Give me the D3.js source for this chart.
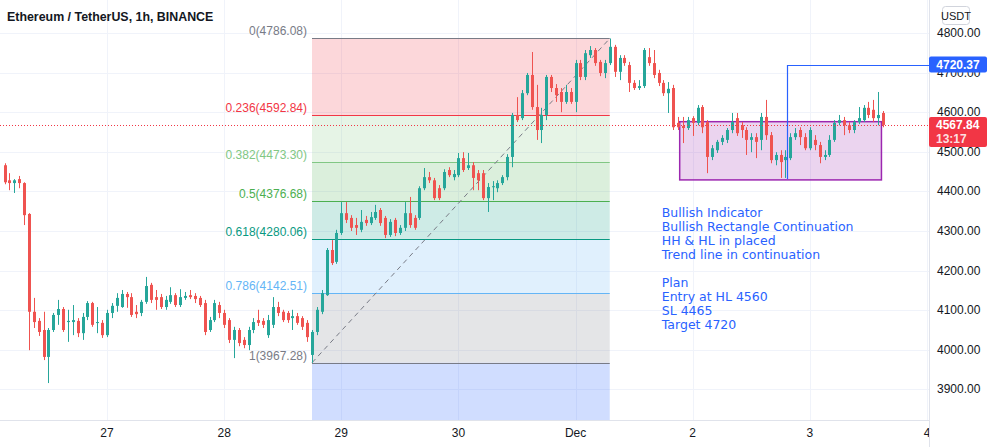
<!DOCTYPE html>
<html><head><meta charset="utf-8">
<script src="https://cdn.jsdelivr.net/npm/d3@7"></script>
<style>html,body{margin:0;padding:0;background:#fff;overflow:hidden}</style>
</head><body><svg id="c" width="992" height="447"></svg>
<script>
const title = "Ethereum / TetherUS, 1h, BINANCE";
const startTime = "2021-11-26T03:00:00Z"; // first hourly candle
// hourly candles [open, high, low, close]
const ohlc = [
[4466,4471,4418,4423],[4428,4446,4403,4421],[4421,4431,4396,4428],[4431,4439,4408,4421],[4421,4423,4315,4340],
[4343,4345,3999,4096],[4096,4131,4055,4070],[4073,4080,4035,4045],[4050,4096,3974,3982],[3982,4055,3916,4050],
[4050,4093,4045,4088],[4088,4126,4063,4103],[4103,4108,4045,4050],[4070,4101,4020,4073],[4070,4113,4037,4075],
[4073,4080,4032,4042],[4042,4093,4025,4083],[4083,4123,4075,4118],[4118,4121,4058,4063],[4068,4108,4042,4070],
[4068,4075,4030,4037],[4037,4101,4032,4093],[4093,4118,4080,4111],[4111,4143,4096,4131],[4108,4151,4106,4141],
[4141,4146,4106,4133],[4133,4143,4083,4088],[4096,4113,4080,4090],[4093,4126,4085,4121],[4121,4184,4116,4161],
[4164,4169,4118,4126],[4133,4151,4101,4126],[4133,4141,4103,4108],[4108,4136,4101,4126],[4121,4158,4116,4138],
[4138,4143,4108,4113],[4113,4153,4108,4133],[4131,4146,4126,4136],[4138,4151,4128,4133],[4136,4143,4118,4128],
[4131,4136,4108,4113],[4118,4126,4037,4045],[4050,4083,4045,4075],[4075,4126,4070,4118],[4113,4121,4080,4093],
[4093,4101,4055,4063],[4075,4080,4017,4025],[4025,4058,3979,4050],[4050,4055,4009,4017],[4025,4032,4004,4012],
[4012,4058,3999,4050],[4050,4080,4042,4070],[4075,4101,4060,4068],[4073,4080,4055,4063],[4037,4088,4030,4075],
[4063,4133,4055,4108],[4108,4121,4085,4093],[4096,4101,4070,4075],[4093,4098,4068,4075],[4080,4101,4050,4085],
[4085,4093,4063,4068],[4080,4085,4050,4058],[4068,4075,4020,4032],[3987,4050,3967.28,4045],[4045,4108,4037,4101],
[4096,4151,4090,4143],[4138,4257,4136,4252],[4252,4277,4214,4219],[4222,4303,4217,4295],[4295,4373,4290,4345],
[4345,4373,4320,4328],[4333,4340,4300,4308],[4315,4333,4290,4308],[4303,4353,4297,4323],[4328,4338,4313,4320],
[4320,4348,4315,4335],[4333,4366,4328,4348],[4353,4358,4313,4320],[4333,4338,4282,4290],[4290,4330,4285,4323],
[4328,4333,4287,4295],[4295,4315,4290,4308],[4308,4373,4300,4345],[4345,4386,4308,4315],[4333,4340,4303,4308],
[4333,4413,4328,4408],[4408,4459,4403,4436],[4436,4449,4421,4428],[4428,4434,4378,4383],[4408,4416,4378,4383],
[4408,4456,4403,4449],[4454,4461,4436,4441],[4436,4454,4428,4444],[4441,4497,4436,4484],[4484,4499,4449,4454],
[4459,4497,4454,4466],[4466,4474,4403,4434],[4446,4454,4403,4428],[4446,4454,4378,4383],[4383,4421,4348,4411],
[4411,4426,4378,4413],[4408,4428,4398,4421],[4421,4441,4416,4436],[4436,4494,4428,4487],[4487,4598,4461,4593],
[4593,4638,4575,4580],[4585,4656,4580,4648],[4648,4699,4643,4694],[4694,4752,4606,4613],[4613,4669,4530,4555],
[4555,4611,4522,4593],[4593,4694,4580,4689],[4689,4694,4651,4661],[4661,4671,4626,4643],[4651,4661,4600,4626],
[4626,4669,4621,4651],[4651,4661,4621,4626],[4626,4732,4600,4724],[4724,4732,4681,4689],[4689,4757,4681,4749],
[4744,4767,4737,4757],[4757,4762,4717,4724],[4727,4732,4691,4699],[4699,4732,4686,4724],[4724,4786.08,4719,4765],
[4765,4770,4689,4702],[4702,4744,4681,4737],[4737,4744,4717,4724],[4719,4727,4651,4674],[4674,4681,4656,4661],
[4661,4681,4656,4666],[4666,4762,4661,4757],[4739,4762,4717,4724],[4724,4757,4686,4694],[4699,4707,4666,4674],
[4674,4681,4641,4648],[4648,4676,4598,4659],[4661,4669,4555,4562],[4573,4588,4555,4562],[4565,4588,4522,4560],
[4560,4588,4555,4580],[4585,4590,4540,4573],[4573,4618,4567,4611],[4613,4618,4547,4562],[4575,4580,4446,4487],
[4487,4517,4479,4509],[4504,4530,4497,4525],[4525,4542,4517,4535],[4530,4560,4522,4555],[4555,4598,4547,4575],
[4585,4598,4540,4547],[4567,4575,4535,4555],[4555,4562,4492,4530],[4530,4547,4499,4537],[4537,4547,4484,4525],
[4530,4598,4504,4588],[4588,4631,4530,4542],[4542,4550,4471,4479],[4479,4499,4466,4492],[4492,4504,4434,4474],
[4479,4504,4434,4487],[4484,4547,4479,4537],[4537,4560,4530,4547],[4555,4562,4517,4537],[4537,4547,4504,4509],
[4509,4562,4504,4555],[4530,4542,4504,4517],[4517,4525,4471,4487],[4487,4504,4479,4492],[4492,4542,4487,4530],
[4530,4580,4525,4573],[4573,4593,4567,4580],[4580,4588,4542,4567],[4567,4575,4547,4555],[4555,4580,4547,4575],
[4575,4613,4570,4585],[4580,4618,4575,4611],[4611,4626,4585,4593],[4606,4631,4575,4585],[4585,4651,4567,4593],
[4598,4603,4562,4567.84]
];
const lastPrice = 4567.84;
const countdown = "13:17";
const priceTicks = [3900,4000,4100,4200,4300,4400,4500,4600,4700,4800];
const dayTicks = ["2021-11-27","2021-11-28","2021-11-29","2021-11-30","2021-12-01","2021-12-02","2021-12-03","2021-12-04"];
const dayLabels = ["27","28","29","30","Dec","2","3","4"];
// Fibonacci retracement
const fibStart = "2021-11-28T18:00:00Z", fibEnd = "2021-12-01T07:00:00Z";
const fibLevels = ["0","0.236","0.382","0.5","0.618","0.786","1"];
const fibPrices = [4786.08,4592.84,4473.30,4376.68,4280.06,4142.51,3967.28];
const fibExtPrice = 3461.30; // 1.618
const fibColors = ["#787b86","#f23645","#81c784","#4caf50","#089981","#64b5f6","#787b86","#2962ff"];
// rectangle & target line
const rectStart = "2021-12-01T21:20:00Z", rectEnd = "2021-12-03T14:40:00Z";
const rectTop = 4576, rectBottom = 4429;
const targetTime = "2021-12-02T19:20:00Z", targetPrice = 4720.37, targetBase = 4431;
const notes = ["Bullish Indicator","Bullish Rectangle Continuation","HH & HL in placed","Trend line in continuation","","Plan","Entry at HL 4560","SL 4465","Target 4720"];
const noteTime = "2021-12-01T17:40:00Z", notePrice = 4335;

const W = 992, H = 447, PR = 929, PB = 420;
const svg = d3.select("#c");
const font = "'Liberation Sans', Arial, sans-serif";
const noteFont = "'DejaVu Sans', sans-serif";
const x = d3.scaleUtc().domain([new Date("2021-11-27T00:00:00Z"), new Date("2021-12-04T00:00:00Z")]).range([107, 927]);
const y = d3.scaleLinear().domain([3822.7, 4883.3]).range([PB, 0]);
const t0 = +new Date(startTime);
const tc = i => new Date(t0 + i * 3600e3);

const defs = svg.append("defs");
defs.append("clipPath").attr("id","plot").append("rect").attr("x",0).attr("y",0).attr("width",PR).attr("height",PB);
defs.append("clipPath").attr("id","xclip").append("rect").attr("x",0).attr("y",PB).attr("width",PR).attr("height",H-PB);
const g = svg.append("g").attr("clip-path","url(#plot)");

// grid
g.selectAll(".hg").data(priceTicks).join("line").attr("x1",0).attr("x2",PR)
  .attr("y1",d=>Math.round(y(d))+0.5).attr("y2",d=>Math.round(y(d))+0.5).attr("stroke","#f0f3fa");
g.selectAll(".vg").data(dayTicks).join("line").attr("y1",0).attr("y2",PB)
  .attr("x1",d=>Math.round(x(new Date(d+"T00:00:00Z")))+0.5).attr("x2",d=>Math.round(x(new Date(d+"T00:00:00Z")))+0.5).attr("stroke","#f0f3fa");

// fib zones
const fx1 = x(new Date(fibStart)), fx2 = x(new Date(fibEnd));
const zoneP = fibPrices.concat([fibExtPrice]);
for (let k = 0; k < zoneP.length - 1; k++) {
  g.append("rect").attr("x",fx1).attr("width",fx2-fx1)
   .attr("y",y(zoneP[k])).attr("height",y(zoneP[k+1])-y(zoneP[k]))
   .attr("fill",fibColors[k+1]).attr("fill-opacity",k===6?0.22:0.2);
}
fibPrices.forEach((p,k)=>{
  g.append("line").attr("x1",fx1).attr("x2",fx2).attr("y1",Math.round(y(p))+0.5).attr("y2",Math.round(y(p))+0.5)
   .attr("stroke",fibColors[k]).attr("stroke-width",1);
  g.append("text").attr("x",fx1-5).attr("y",y(p)-3).attr("text-anchor","end")
   .attr("font-family",font).attr("font-size",12).attr("fill",fibColors[k])
   .text(fibLevels[k]+"("+p.toFixed(2)+")");
});
// trend (fib anchor) dashed line
g.append("line").attr("x1",fx1).attr("y1",y(fibPrices[6])).attr("x2",fx2).attr("y2",y(fibPrices[0]))
  .attr("stroke","#787b86").attr("stroke-dasharray","5,4").attr("stroke-width",1);

// rectangle
const rx1 = x(new Date(rectStart)), rx2 = x(new Date(rectEnd));
g.append("rect").attr("x",rx1).attr("y",y(rectTop)).attr("width",rx2-rx1).attr("height",y(rectBottom)-y(rectTop))
  .attr("fill","#9c27b0").attr("fill-opacity",0.2).attr("stroke","#9c27b0").attr("stroke-width",1.5);

// candles
const up = "#26a69a", dn = "#ef5350";
const cg = g.append("g");
cg.selectAll("line").data(ohlc).join("line")
  .attr("x1",(d,i)=>Math.round(x(tc(i)))+0.5).attr("x2",(d,i)=>Math.round(x(tc(i)))+0.5)
  .attr("y1",d=>y(d[1])).attr("y2",d=>y(d[2]))
  .attr("stroke",d=>d[3]>=d[0]?up:dn);
cg.selectAll("rect").data(ohlc).join("rect")
  .attr("x",(d,i)=>Math.round(x(tc(i)))-1).attr("width",3)
  .attr("y",d=>y(Math.max(d[0],d[3]))).attr("height",d=>Math.max(1,Math.abs(y(d[0])-y(d[3]))))
  .attr("fill",d=>d[3]>=d[0]?up:dn);

// target line
const tx = Math.round(x(new Date(targetTime)))+0.5;
g.append("path").attr("d",`M${tx},${y(targetBase)}V${Math.round(y(targetPrice))+0.5}H${PR}`)
  .attr("fill","none").attr("stroke","#2962ff").attr("stroke-width",1.2);

// last price dotted line
g.append("line").attr("x1",0).attr("x2",PR).attr("y1",Math.round(y(lastPrice))+0.5).attr("y2",Math.round(y(lastPrice))+0.5)
  .attr("stroke","#f23645").attr("stroke-dasharray","1,2");

// notes
const nt = g.append("text").attr("font-family",noteFont).attr("font-size",12.5).attr("fill","#2962ff");
notes.forEach((s,k)=>nt.append("tspan").attr("x",x(new Date(noteTime))).attr("y",y(notePrice)+k*14).text(s));

// title
svg.append("text").attr("x",7).attr("y",21).attr("font-family",font).attr("font-size",12.4).attr("font-weight",600)
  .attr("fill","#131722").text(title);

// axes panels
svg.append("rect").attr("x",PR).attr("y",0).attr("width",W-PR).attr("height",H).attr("fill","#fff");
svg.append("rect").attr("x",0).attr("y",PB).attr("width",PR).attr("height",H-PB).attr("fill","#fff");
svg.append("line").attr("x1",PR+0.5).attr("x2",PR+0.5).attr("y1",0).attr("y2",H).attr("stroke","#e0e3eb");
svg.append("line").attr("x1",0).attr("x2",PR).attr("y1",PB+0.5).attr("y2",PB+0.5).attr("stroke","#e0e3eb");

svg.selectAll(".yt").data(priceTicks).join("text").attr("x",937).attr("y",d=>y(d)+4)
  .attr("font-family",font).attr("font-size",12).attr("fill","#131722").text(d=>d.toFixed(2));
const xa = svg.append("g").attr("clip-path","url(#xclip)");
xa.selectAll("text").data(dayTicks).join("text").attr("x",d=>x(new Date(d+"T00:00:00Z"))).attr("y",437)
  .attr("text-anchor","middle").attr("font-family",font).attr("font-size",12).attr("fill","#131722")
  .text((d,i)=>dayLabels[i]);

// USDT box
svg.append("rect").attr("x",942.5).attr("y",6.5).attr("width",27).attr("height",18).attr("rx",3)
  .attr("fill","#fff").attr("stroke","#d1d4dc");
svg.append("text").attr("x",956).attr("y",19.5).attr("text-anchor","middle").attr("font-family",font)
  .attr("font-size",11).attr("fill","#131722").text("USDT");

// price tags
const ty = y(targetPrice);
svg.append("rect").attr("x",PR).attr("y",ty-8).attr("width",58).attr("height",16).attr("rx",2).attr("fill","#2962ff");
svg.append("text").attr("x",958).attr("y",ty+4.5).attr("text-anchor","middle").attr("font-family",font)
  .attr("font-size",12).attr("font-weight","bold").attr("fill","#fff").text(targetPrice.toFixed(2));
const ly = y(lastPrice);
svg.append("rect").attr("x",PR).attr("y",ly-8).attr("width",58).attr("height",30).attr("rx",2).attr("fill","#f23645");
svg.append("text").attr("x",936).attr("y",ly+4.5).attr("font-family",font)
  .attr("font-size",12).attr("font-weight","bold").attr("fill","#fff").text(lastPrice.toFixed(2));
svg.append("text").attr("x",936).attr("y",ly+18.5).attr("font-family",font)
  .attr("font-size",12).attr("font-weight","bold").attr("fill","#fff").attr("fill-opacity",0.85).text(countdown);
</script>
</body></html>
